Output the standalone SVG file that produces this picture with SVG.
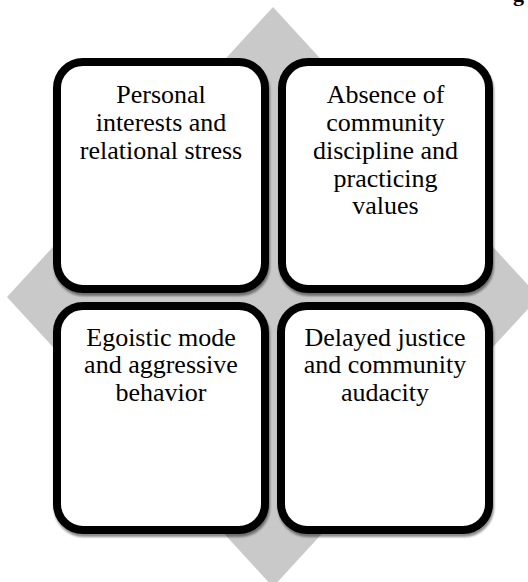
<svg xmlns="http://www.w3.org/2000/svg" width="528" height="582" viewBox="0 0 528 582">
<style>
.box{fill:#ffffff;stroke:#000000;stroke-width:8;filter:url(#sh);}
.lbl{font-family:"Liberation Serif","Times New Roman",serif;font-size:26px;fill:#000000;text-anchor:middle;}
.hdr{font-family:"Liberation Serif","Times New Roman",serif;font-size:22px;font-weight:bold;fill:#000000;}
</style>
<defs>
<filter id="sh" x="-10%" y="-10%" width="120%" height="120%">
<feDropShadow dx="1" dy="3" stdDeviation="0.8" flood-color="#000000" flood-opacity="0.45"/>
</filter>
</defs>
<rect width="528" height="582" fill="#ffffff"/>
<text class="hdr" x="513" y="0.5">g</text>
<g id="background">
<polygon points="273,7 539,297 273,587 7,297" fill="#c9c9c9"/>
</g>
<g id="connectors"></g>
<g id="node1">
<rect class="box" x="57" y="62" width="208" height="227" rx="26" ry="26"/>
<text class="lbl" x="161" y="103.3">Personal</text>
<text class="lbl" x="161" y="131">interests and</text>
<text class="lbl" x="161" y="158.8">relational stress</text>
</g>
<g id="node2">
<rect class="box" x="282" y="62" width="207" height="227" rx="26" ry="26"/>
<text class="lbl" x="385.5" y="103.3">Absence of</text>
<text class="lbl" x="385.5" y="131">community</text>
<text class="lbl" x="385.5" y="158.8">discipline and</text>
<text class="lbl" x="385.5" y="186.5">practicing</text>
<text class="lbl" x="385.5" y="214.3">values</text>
</g>
<g id="node3">
<rect class="box" x="57" y="306" width="208" height="224" rx="26" ry="26"/>
<text class="lbl" x="161" y="345.7">Egoistic mode</text>
<text class="lbl" x="161" y="373.4">and aggressive</text>
<text class="lbl" x="161" y="401.2">behavior</text>
</g>
<g id="node4">
<rect class="box" x="281" y="306" width="208" height="224" rx="26" ry="26"/>
<text class="lbl" x="385" y="345.7">Delayed justice</text>
<text class="lbl" x="385" y="373.4">and community</text>
<text class="lbl" x="385" y="401.2">audacity</text>
</g>
</svg>
